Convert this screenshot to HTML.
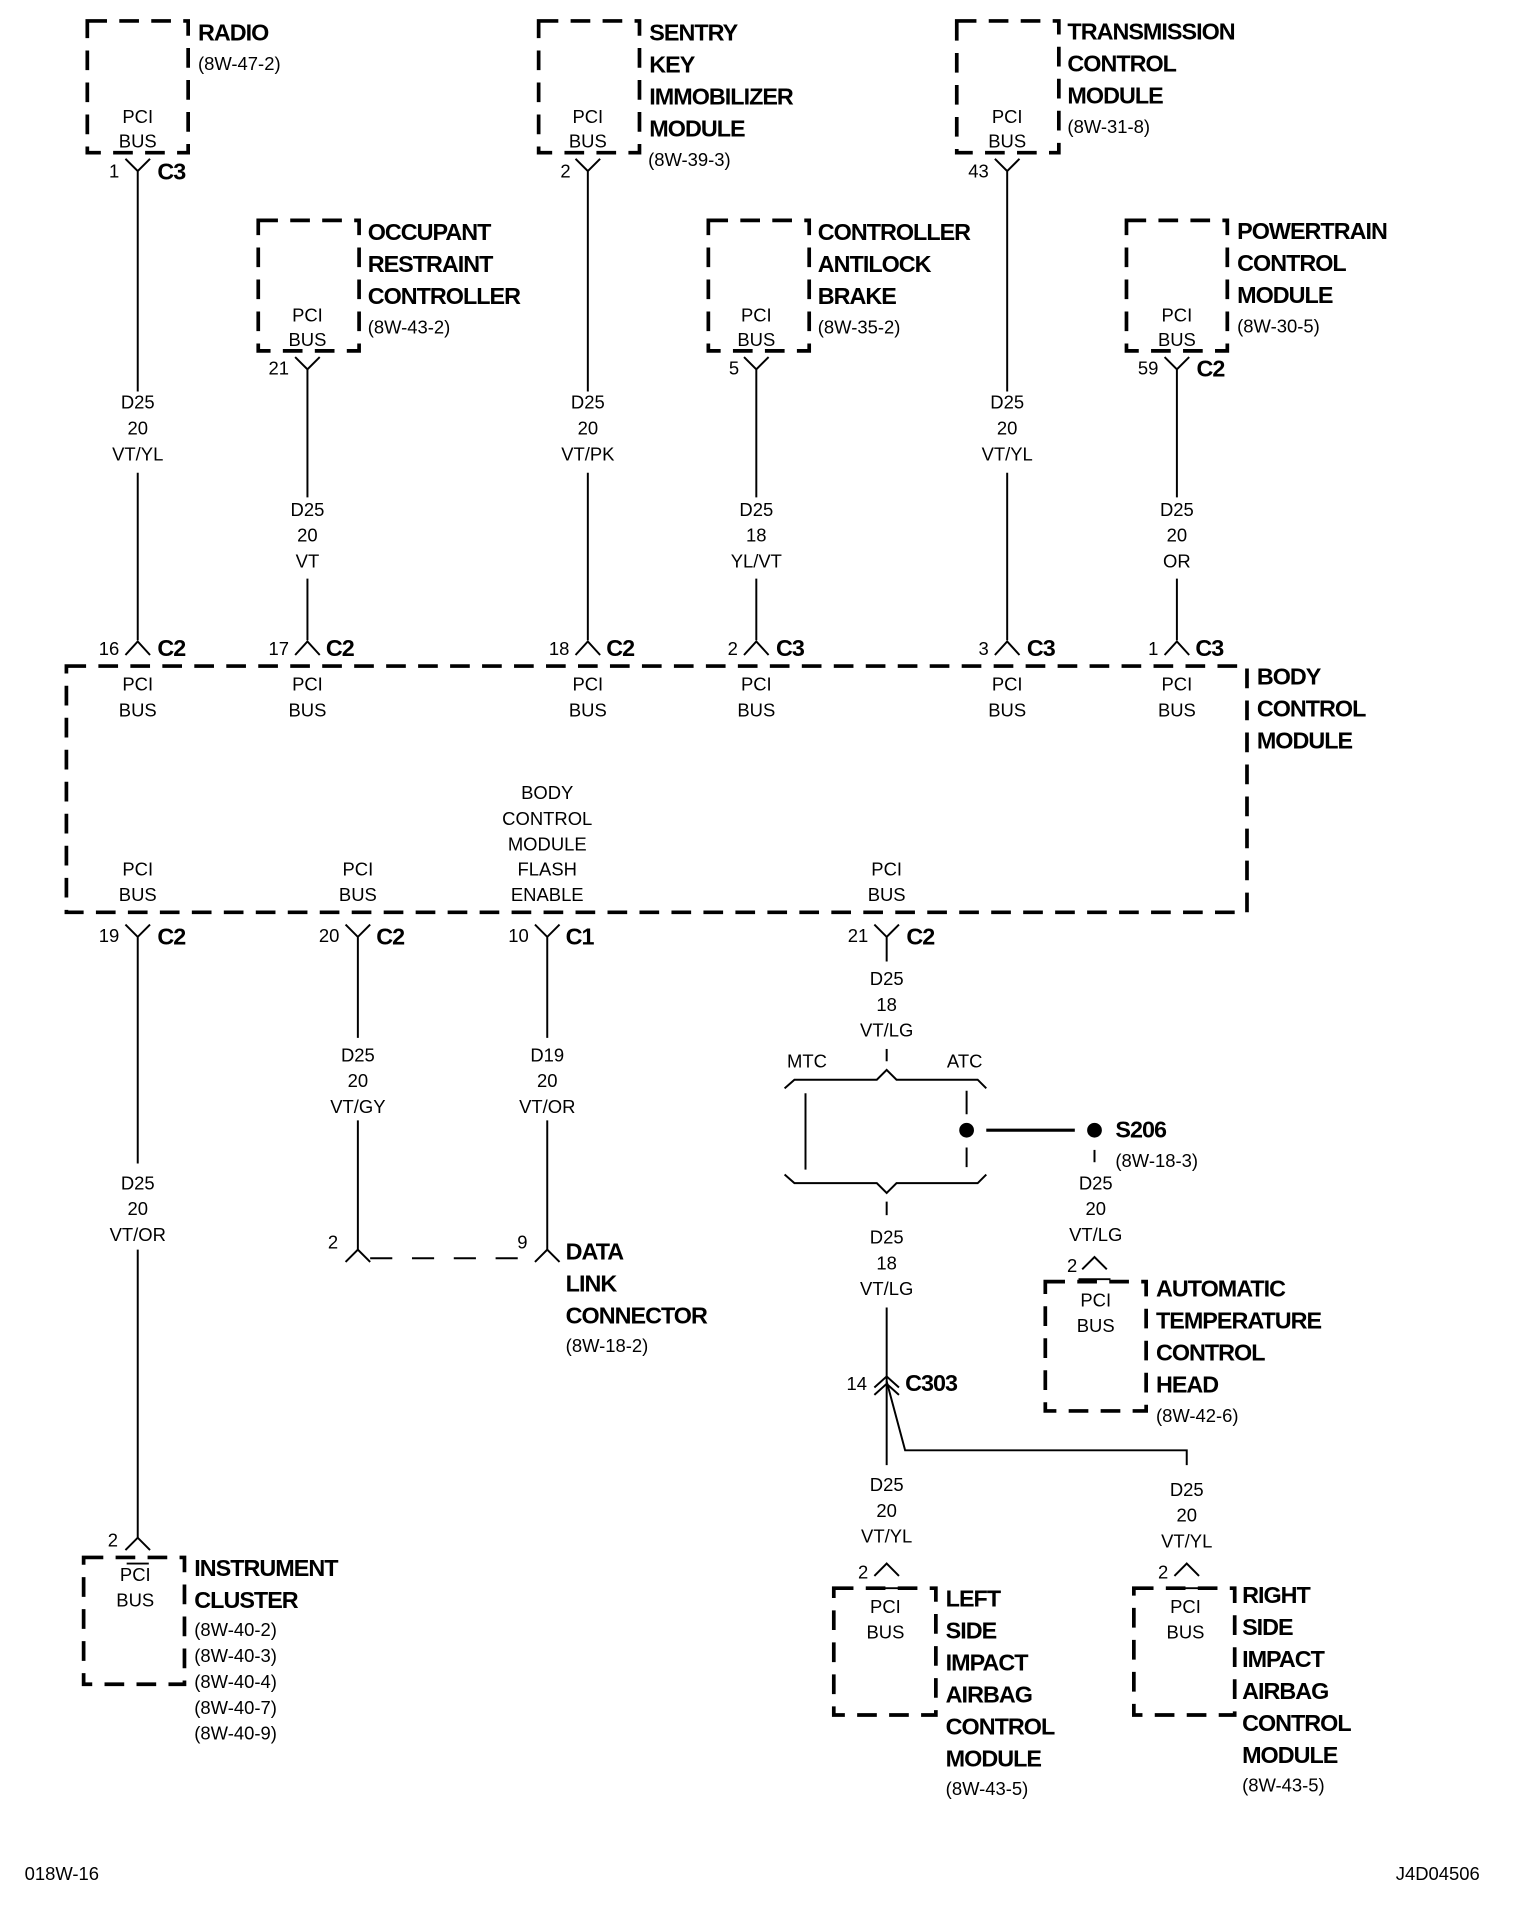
<!DOCTYPE html>
<html><head><meta charset="utf-8"><style>
html,body{margin:0;padding:0;background:#fff;}
svg{display:block}
text{font-family:"Liberation Sans",sans-serif;fill:#000}
.s{font-size:15px;text-anchor:middle}
.sl{font-size:15px}
.sr{font-size:15px;text-anchor:end}
.b{font-size:19px;font-weight:bold;letter-spacing:-0.8px}
.box{fill:none;stroke:#000;stroke-width:3;stroke-dasharray:16 10}
.w{fill:none;stroke:#000;stroke-width:1.6}
</style></head><body>
<svg width="1520" height="1928" viewBox="0 0 1236 1566" preserveAspectRatio="none" xmlns="http://www.w3.org/2000/svg">
<rect class="box" x="71" y="17" width="82" height="107"/>
<rect class="box" x="438" y="17" width="82" height="107"/>
<rect class="box" x="778" y="17" width="83" height="107"/>
<rect class="box" x="210" y="179" width="82" height="106"/>
<rect class="box" x="576" y="179" width="82" height="106"/>
<rect class="box" x="916" y="179" width="82" height="106"/>
<text x="112" y="100" class="s">PCI</text><text x="112" y="120" class="s">BUS</text>
<text x="478" y="100" class="s">PCI</text><text x="478" y="120" class="s">BUS</text>
<text x="819" y="100" class="s">PCI</text><text x="819" y="120" class="s">BUS</text>
<text x="250" y="261" class="s">PCI</text><text x="250" y="281" class="s">BUS</text>
<text x="615" y="261" class="s">PCI</text><text x="615" y="281" class="s">BUS</text>
<text x="957" y="261" class="s">PCI</text><text x="957" y="281" class="s">BUS</text>
<text class="b" x="161" y="33">RADIO</text><text class="sl" x="161" y="57">(8W-47-2)</text>
<text class="b" x="528" y="33">SENTRY</text><text class="b" x="528" y="59">KEY</text><text class="b" x="528" y="85">IMMOBILIZER</text><text class="b" x="528" y="111">MODULE</text><text class="sl" x="527" y="135">(8W-39-3)</text>
<text class="b" x="868" y="32">TRANSMISSION</text><text class="b" x="868" y="58">CONTROL</text><text class="b" x="868" y="84">MODULE</text><text class="sl" x="868" y="108">(8W-31-8)</text>
<text class="b" x="299" y="195">OCCUPANT</text><text class="b" x="299" y="221">RESTRAINT</text><text class="b" x="299" y="247">CONTROLLER</text><text class="sl" x="299" y="271">(8W-43-2)</text>
<text class="b" x="665" y="195">CONTROLLER</text><text class="b" x="665" y="221">ANTILOCK</text><text class="b" x="665" y="247">BRAKE</text><text class="sl" x="665" y="271">(8W-35-2)</text>
<text class="b" x="1006" y="194">POWERTRAIN</text><text class="b" x="1006" y="220">CONTROL</text><text class="b" x="1006" y="246">MODULE</text><text class="sl" x="1006" y="270">(8W-30-5)</text>
<g class="w">
<path d="M102 129 L112 139 L122 129 M112 139 V318 M112 384 V520"/>
<path d="M468 129 L478 139 L488 129 M478 139 V318 M478 384 V520"/>
<path d="M809 129 L819 139 L829 129 M819 139 V318 M819 384 V520"/>
<path d="M240 290 L250 300 L260 290 M250 300 V404 M250 470 V520"/>
<path d="M605 290 L615 300 L625 290 M615 300 V404 M615 470 V520"/>
<path d="M947 290 L957 300 L967 290 M957 300 V404 M957 470 V520"/>
<path d="M102 532 L112 521 L122 532"/>
<path d="M240 532 L250 521 L260 532"/>
<path d="M468 532 L478 521 L488 532"/>
<path d="M605 532 L615 521 L625 532"/>
<path d="M809 532 L819 521 L829 532"/>
<path d="M947 532 L957 521 L967 532"/>
</g>
<text class="sr" x="97" y="144">1</text><text class="b" x="128" y="146">C3</text>
<text class="sr" x="464" y="144">2</text>
<text class="sr" x="804" y="144">43</text>
<text class="sr" x="235" y="304">21</text>
<text class="sr" x="601" y="304">5</text>
<text class="sr" x="942" y="304">59</text><text class="b" x="973" y="306">C2</text>
<text class="s" x="112" y="332">D25</text><text class="s" x="112" y="353">20</text><text class="s" x="112" y="374">VT/YL</text>
<text class="s" x="478" y="332">D25</text><text class="s" x="478" y="353">20</text><text class="s" x="478" y="374">VT/PK</text>
<text class="s" x="819" y="332">D25</text><text class="s" x="819" y="353">20</text><text class="s" x="819" y="374">VT/YL</text>
<text class="s" x="250" y="419">D25</text><text class="s" x="250" y="440">20</text><text class="s" x="250" y="461">VT</text>
<text class="s" x="615" y="419">D25</text><text class="s" x="615" y="440">18</text><text class="s" x="615" y="461">YL/VT</text>
<text class="s" x="957" y="419">D25</text><text class="s" x="957" y="440">20</text><text class="s" x="957" y="461">OR</text>
<text class="sr" x="97" y="532">16</text><text class="b" x="128" y="533">C2</text>
<text class="sr" x="235" y="532">17</text><text class="b" x="265" y="533">C2</text>
<text class="sr" x="463" y="532">18</text><text class="b" x="493" y="533">C2</text>
<text class="sr" x="600" y="532">2</text><text class="b" x="631" y="533">C3</text>
<text class="sr" x="804" y="532">3</text><text class="b" x="835" y="533">C3</text>
<text class="sr" x="942" y="532">1</text><text class="b" x="972" y="533">C3</text>
<rect class="box" x="54" y="541" width="960" height="200"/>
<text class="s" x="112" y="561">PCI</text><text class="s" x="112" y="582">BUS</text>
<text class="s" x="250" y="561">PCI</text><text class="s" x="250" y="582">BUS</text>
<text class="s" x="478" y="561">PCI</text><text class="s" x="478" y="582">BUS</text>
<text class="s" x="615" y="561">PCI</text><text class="s" x="615" y="582">BUS</text>
<text class="s" x="819" y="561">PCI</text><text class="s" x="819" y="582">BUS</text>
<text class="s" x="957" y="561">PCI</text><text class="s" x="957" y="582">BUS</text>
<text class="b" x="1022" y="556">BODY</text><text class="b" x="1022" y="582">CONTROL</text><text class="b" x="1022" y="608">MODULE</text>
<text class="s" x="112" y="711">PCI</text><text class="s" x="112" y="732">BUS</text>
<text class="s" x="291" y="711">PCI</text><text class="s" x="291" y="732">BUS</text>
<text class="s" x="721" y="711">PCI</text><text class="s" x="721" y="732">BUS</text>
<text class="s" x="445" y="649">BODY</text><text class="s" x="445" y="670">CONTROL</text><text class="s" x="445" y="691">MODULE</text><text class="s" x="445" y="711">FLASH</text><text class="s" x="445" y="732">ENABLE</text>
<g class="w">
<path d="M102 751 L112 761 L122 751 M112 761 V945 M112 1015 V1250"/>
<path d="M281 751 L291 761 L301 751 M291 761 V843 M291 910 V1015"/>
<path d="M435 751 L445 761 L455 751 M445 761 V843 M445 910 V1015"/>
<path d="M711 751 L721 761 L731 751 M721 761 V781"/>
<path d="M281 1025 L291 1015 L301 1025 M435 1025 L445 1015 L455 1025"/>
<path d="M301 1022 H435" stroke-dasharray="18 16"/>
<path d="M102 1259 L112 1249 L122 1259"/>
</g>
<text class="sr" x="97" y="765">19</text><text class="b" x="128" y="767">C2</text>
<text class="sr" x="276" y="765">20</text><text class="b" x="306" y="767">C2</text>
<text class="sr" x="430" y="765">10</text><text class="b" x="460" y="767">C1</text>
<text class="sr" x="706" y="765">21</text><text class="b" x="737" y="767">C2</text>
<text class="s" x="112" y="966">D25</text><text class="s" x="112" y="987">20</text><text class="s" x="112" y="1008">VT/OR</text>
<text class="s" x="291" y="862">D25</text><text class="s" x="291" y="883">20</text><text class="s" x="291" y="904">VT/GY</text>
<text class="s" x="445" y="862">D19</text><text class="s" x="445" y="883">20</text><text class="s" x="445" y="904">VT/OR</text>
<text class="sr" x="275" y="1014">2</text><text class="sr" x="429" y="1014">9</text>
<text class="b" x="460" y="1023">DATA</text><text class="b" x="460" y="1049">LINK</text><text class="b" x="460" y="1075">CONNECTOR</text><text class="sl" x="460" y="1098">(8W-18-2)</text>
<text class="sr" x="96" y="1256">2</text>
<rect class="box" x="68" y="1265" width="82" height="103"/>
<path d="M103 1270 H121" stroke="#000" stroke-width="1.6"/>
<text class="s" x="110" y="1284">PCI</text><text class="s" x="110" y="1305">BUS</text>
<text class="b" x="158" y="1280">INSTRUMENT</text><text class="b" x="158" y="1306">CLUSTER</text>
<text class="sl" x="158" y="1329">(8W-40-2)</text><text class="sl" x="158" y="1350">(8W-40-3)</text><text class="sl" x="158" y="1371">(8W-40-4)</text><text class="sl" x="158" y="1392">(8W-40-7)</text><text class="sl" x="158" y="1413">(8W-40-9)</text>
<text class="s" x="721" y="800">D25</text><text class="s" x="721" y="821">18</text><text class="s" x="721" y="842">VT/LG</text>
<g class="w">
<path d="M721 852 V862"/>
<path d="M638 884 L646 877 L713 877 L721 869 L729 877 L795 877 L802 884"/>
<path d="M638 954 L646 961 L713 961 L721 969 L729 961 L795 961 L802 954"/>
<path d="M655 888 V950"/>
<path d="M786 886 V905 M786 932 V948"/>
<path d="M721 976 V987"/>
<path d="M802 918 H874" stroke-width="2.6"/>
<path d="M890 934 V944"/>
<path d="M880 1031 L890 1021 L900 1031"/>
<path d="M721 1062 V1190"/>
<path d="M711 1127 L721 1118 L731 1127 M711 1133 L721 1124 L731 1133"/>
<path d="M721 1122 L736 1178 H965 V1190"/>
<path d="M711 1280 L721 1270 L731 1280 M955 1280 L965 1270 L975 1280"/>
<path d="M706 1290 H736 M950 1290 H980"/>
<path d="M877 1039 H903"/>
</g>
<circle cx="786" cy="918" r="6"/>
<circle cx="890" cy="918" r="6"/>
<text class="sl" x="640" y="867">MTC</text><text class="sl" x="770" y="867">ATC</text>
<text class="b" x="907" y="924">S206</text><text class="sl" x="907" y="948">(8W-18-3)</text>
<text class="s" x="891" y="966">D25</text><text class="s" x="891" y="987">20</text><text class="s" x="891" y="1008">VT/LG</text>
<text class="sr" x="876" y="1033">2</text>
<rect class="box" x="850" y="1041" width="82" height="105"/>
<text class="s" x="891" y="1061">PCI</text><text class="s" x="891" y="1082">BUS</text>
<text class="b" x="940" y="1053">AUTOMATIC</text><text class="b" x="940" y="1079">TEMPERATURE</text><text class="b" x="940" y="1105">CONTROL</text><text class="b" x="940" y="1131">HEAD</text><text class="sl" x="940" y="1155">(8W-42-6)</text>
<text class="s" x="721" y="1010">D25</text><text class="s" x="721" y="1031">18</text><text class="s" x="721" y="1052">VT/LG</text>
<text class="sr" x="705" y="1129">14</text><text class="b" x="736" y="1130">C303</text>
<text class="s" x="721" y="1211">D25</text><text class="s" x="721" y="1232">20</text><text class="s" x="721" y="1253">VT/YL</text>
<text class="s" x="965" y="1215">D25</text><text class="s" x="965" y="1236">20</text><text class="s" x="965" y="1257">VT/YL</text>
<text class="sr" x="706" y="1282">2</text><text class="sr" x="950" y="1282">2</text>
<rect class="box" x="678" y="1290" width="83" height="103"/>
<rect class="box" x="922" y="1290" width="82" height="103"/>
<text class="s" x="720" y="1310">PCI</text><text class="s" x="720" y="1331">BUS</text>
<text class="s" x="964" y="1310">PCI</text><text class="s" x="964" y="1331">BUS</text>
<text class="b" x="769" y="1305">LEFT</text><text class="b" x="769" y="1331">SIDE</text><text class="b" x="769" y="1357">IMPACT</text><text class="b" x="769" y="1383">AIRBAG</text><text class="b" x="769" y="1409">CONTROL</text><text class="b" x="769" y="1435">MODULE</text><text class="sl" x="769" y="1458">(8W-43-5)</text>
<text class="b" x="1010" y="1302">RIGHT</text><text class="b" x="1010" y="1328">SIDE</text><text class="b" x="1010" y="1354">IMPACT</text><text class="b" x="1010" y="1380">AIRBAG</text><text class="b" x="1010" y="1406">CONTROL</text><text class="b" x="1010" y="1432">MODULE</text><text class="sl" x="1010" y="1455">(8W-43-5)</text>
<text class="sl" x="20" y="1527">018W-16</text>
<text class="sl" x="1135" y="1527">J4D04506</text>
</svg>
</body></html>
